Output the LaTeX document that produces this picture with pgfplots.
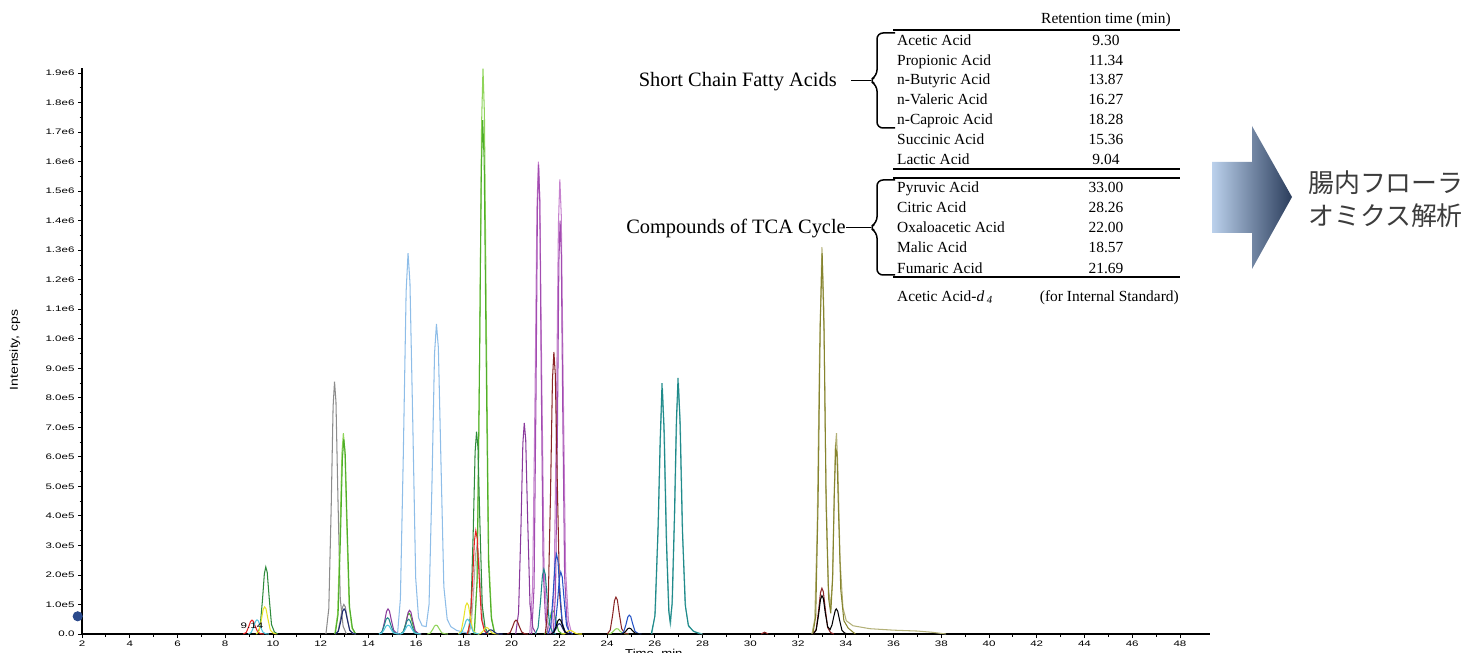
\documentclass[border=0pt]{standalone}
\usepackage{fontspec}
\setmainfont{Liberation Serif}
\setsansfont{Liberation Sans}
\newfontfamily\jp{Noto Sans CJK JP}
\usepackage{graphicx}
\usepackage{pgfplots}
\pgfplotsset{compat=1.18}
\usetikzlibrary{plotmarks}
\definecolor{cGray}{HTML}{8C8C8C}
\definecolor{cLGreen}{HTML}{8FD45A}
\definecolor{cGreen}{HTML}{4FAE2A}
\definecolor{cDGreen}{HTML}{2E8B3C}
\definecolor{cLBlue}{HTML}{8EBDE8}
\definecolor{cYellow}{HTML}{E8E22A}
\definecolor{cRed}{HTML}{E42424}
\definecolor{cCyan}{HTML}{52C6DE}
\definecolor{cNavy}{HTML}{1E2A6E}
\definecolor{cPurple}{HTML}{8A3A9C}
\definecolor{cLMag}{HTML}{C682CE}
\definecolor{cDMag}{HTML}{A24CB0}
\definecolor{cMaroon}{HTML}{8A2626}
\definecolor{cBlue}{HTML}{2452C6}
\definecolor{cTeal}{HTML}{1F8A8A}
\definecolor{cLTeal}{HTML}{72B9B9}
\definecolor{cOlive}{HTML}{86842E}
\definecolor{cLOlive}{HTML}{B3B178}
\definecolor{arrL}{HTML}{BBD1EC}
\definecolor{arrM}{HTML}{4E88C8}
\definecolor{arrR}{HTML}{2B3D5C}
\definecolor{cMark}{HTML}{2B4A8C}
\definecolor{jpgray}{HTML}{3C3C3C}
\newcommand{\tl}[1]{\scalebox{1.45}[1]{#1}}
\newcommand{\tf}{\fontsize{15.5}{18}\selectfont}
\begin{document}
\begin{tikzpicture}
\useasboundingbox (0bp,0bp) rectangle (1469bp,653bp);
\begin{axis}[
  at={(82bp,19bp)}, anchor=south west,
  width=1128bp, height=566bp, scale only axis,
  xmin=2, xmax=49.26, ymin=0, ymax=19.17,
  axis lines=left, axis line style={-, line width=1.1bp},
  xtick={2,4,...,48}, minor x tick num=1,
  ytick={0,1,...,19}, minor y tick num=1,
  tick align=outside, major tick length=4bp, minor tick length=2.5bp,
  tick style={line width=0.8bp, black},
  xticklabels={\tl{2},\tl{4},\tl{6},\tl{8},\tl{10},\tl{12},\tl{14},\tl{16},\tl{18},\tl{20},\tl{22},\tl{24},\tl{26},\tl{28},\tl{30},\tl{32},\tl{34},\tl{36},\tl{38},\tl{40},\tl{42},\tl{44},\tl{46},\tl{48}},
  yticklabels={\tl{0.0},\tl{1.0e5},\tl{2.0e5},\tl{3.0e5},\tl{4.0e5},\tl{5.0e5},\tl{6.0e5},\tl{7.0e5},\tl{8.0e5},\tl{9.0e5},\tl{1.0e6},\tl{1.1e6},\tl{1.2e6},\tl{1.3e6},\tl{1.4e6},\tl{1.5e6},\tl{1.6e6},\tl{1.7e6},\tl{1.8e6},\tl{1.9e6}},
  tick label style={font=\fontsize{8}{9}\selectfont\sffamily},
  xticklabel style={yshift=1bp},
  ylabel={\scalebox{1.22}[1]{Intensity, cps}},
  ylabel style={at={(axis description cs:-0.0594,0.502)}, anchor=center, font=\fontsize{11.5}{12}\selectfont\sffamily},
  xlabel={\scalebox{1.15}[1]{Time, min}},
  xlabel style={at={(axis description cs:0.507,-0.041)}, anchor=base, font=\fontsize{11.5}{12}\selectfont\sffamily},
  clip=false,
  every axis plot/.append style={line width=1.05bp, no marks},
]
% light blue
\addplot[cLBlue] coordinates {(15.22,0)(15.34,1.2)(15.46,6.0)(15.58,11.6)(15.66,12.9)(15.74,11.9)(15.86,7.1)(15.98,1.9)(16.10,0.55)(16.25,0.28)(16.42,0.25)(16.54,1.0)(16.66,5.0)(16.77,9.5)(16.85,10.5)(16.93,9.7)(17.04,5.8)(17.16,1.6)(17.30,0.5)(17.45,0.25)(17.7,0.12)(18.0,0.06)(18.3,0)};
% gray
\addplot[cGray] coordinates {(12.22,0)(12.34,0.86)(12.44,4.28)(12.52,7.70)(12.58,8.55)(12.64,7.87)(12.72,4.70)(12.82,1.20)(12.94,0.26)(13.08,0)};
\addplot[cGray] coordinates {(12.61,0)(12.73,0.1)(12.83,0.5)(12.91,0.9)(12.97,1.0)(13.03,0.92)(13.11,0.55)(13.21,0.14)(13.33,0.03)(13.47,0)};
\addplot[cGray!70] coordinates {(18.19,0)(18.31,0.3)(18.41,1.5)(18.49,2.7)(18.55,3.0)(18.61,2.76)(18.69,1.65)(18.79,0.42)(18.91,0.09)(19.05,0)};
% greens
\addplot[cLGreen] coordinates {(12.59,0)(12.71,0.68)(12.81,3.4)(12.89,6.12)(12.95,6.8)(13.01,6.26)(13.09,3.74)(13.19,0.95)(13.31,0.2)(13.45,0)};
\addplot[cGreen] coordinates {(12.61,0)(12.73,0.66)(12.83,3.3)(12.91,5.94)(12.97,6.6)(13.03,6.07)(13.11,3.63)(13.21,0.92)(13.33,0.2)(13.47,0)};
\addplot[cLGreen] coordinates {(18.44,0)(18.56,1.92)(18.66,9.58)(18.74,17.24)(18.80,19.15)(18.86,17.62)(18.94,10.53)(19.04,2.68)(19.16,0.57)(19.30,0)};
\addplot[cGreen] coordinates {(18.43,0)(18.55,1.74)(18.65,8.7)(18.73,15.66)(18.79,17.4)(18.85,16.01)(18.93,9.57)(19.03,2.44)(19.15,0.52)(19.29,0)};
\addplot[cGreen] coordinates {(15.34,0)(15.46,0.07)(15.56,0.35)(15.64,0.63)(15.70,0.7)(15.76,0.64)(15.84,0.39)(15.94,0.1)(16.06,0.02)(16.20,0)};
\addplot[cLGreen] coordinates {(16.47,0)(16.59,0.03)(16.69,0.15)(16.77,0.27)(16.83,0.3)(16.89,0.28)(16.97,0.17)(17.07,0.04)(17.19,0.01)(17.33,0)};
\addplot[cLGreen] coordinates {(24.04,0)(24.16,0.02)(24.26,0.09)(24.34,0.16)(24.40,0.18)(24.46,0.17)(24.54,0.1)(24.64,0.03)(24.76,0.01)(24.90,0)};
\addplot[cGreen] coordinates {(21.36,0)(21.48,0.08)(21.58,0.4)(21.66,0.72)(21.72,0.8)(21.78,0.74)(21.86,0.44)(21.96,0.11)(22.08,0.02)(22.22,0)};
\addplot[cDGreen] coordinates {(9.34,0)(9.46,0.23)(9.56,1.14)(9.64,2.04)(9.70,2.27)(9.76,2.09)(9.84,1.25)(9.94,0.32)(10.06,0.07)(10.20,0)};
\addplot[cDGreen] coordinates {(18.17,0)(18.29,0.69)(18.39,3.43)(18.47,6.17)(18.53,6.85)(18.59,6.3)(18.67,3.77)(18.77,0.96)(18.89,0.21)(19.03,0)};
% magenta / purple
\addplot[cLMag] coordinates {(20.76,0)(20.88,1.6)(20.98,8.0)(21.06,14.4)(21.12,16.0)(21.18,14.72)(21.26,8.8)(21.36,2.24)(21.48,0.48)(21.62,0)};
\addplot[cLMag] coordinates {(21.66,0)(21.78,1.54)(21.88,7.7)(21.96,13.86)(22.02,15.4)(22.08,14.17)(22.16,8.47)(22.26,2.16)(22.38,0.46)(22.52,0)};
\addplot[cDMag] coordinates {(20.84,0)(20.94,1.59)(21.02,7.95)(21.08,14.31)(21.13,15.9)(21.18,14.63)(21.24,8.75)(21.32,2.23)(21.42,0.48)(21.53,0)};
\addplot[cDMag] coordinates {(21.74,0)(21.84,1.4)(21.92,7.0)(21.98,12.6)(22.03,14.0)(22.08,12.88)(22.14,7.7)(22.22,1.96)(22.32,0.42)(22.43,0)};
\addplot[cPurple] coordinates {(20.17,0)(20.29,0.72)(20.39,3.58)(20.47,6.44)(20.53,7.15)(20.59,6.58)(20.67,3.93)(20.77,1.0)(20.89,0.21)(21.03,0)};
\addplot[cPurple] coordinates {(14.46,0)(14.58,0.09)(14.68,0.43)(14.76,0.77)(14.82,0.85)(14.88,0.78)(14.96,0.47)(15.06,0.12)(15.18,0.03)(15.32,0)};
\addplot[cPurple] coordinates {(15.36,0)(15.48,0.08)(15.58,0.4)(15.66,0.72)(15.72,0.8)(15.78,0.74)(15.86,0.44)(15.96,0.11)(16.08,0.02)(16.22,0)};
% teal
\addplot[cLTeal] coordinates {(25.87,0)(26.02,0.7)(26.15,3.8)(26.24,6.8)(26.32,8.3)(26.40,6.8)(26.50,3.0)(26.60,0.7)(26.66,0.35)(26.74,1.2)(26.84,4.3)(26.92,7.4)(26.99,8.5)(27.07,7.0)(27.17,3.3)(27.29,0.9)(27.42,0.25)(27.65,0.08)(28.0,0)};
\addplot[cTeal] coordinates {(25.85,0)(26.0,0.6)(26.13,3.5)(26.22,6.5)(26.30,8.5)(26.38,7.0)(26.48,3.2)(26.58,0.8)(26.64,0.4)(26.72,1.0)(26.82,4.0)(26.90,7.2)(26.97,8.67)(27.05,7.3)(27.15,3.6)(27.27,1.0)(27.40,0.3)(27.6,0.1)(27.9,0)};
\addplot[cTeal] coordinates {(20.99,0)(21.11,0.22)(21.21,1.1)(21.29,1.98)(21.35,2.2)(21.41,2.02)(21.49,1.21)(21.59,0.31)(21.71,0.07)(21.85,0)};
\addplot[cTeal] coordinates {(14.44,0)(14.56,0.06)(14.66,0.28)(14.74,0.5)(14.80,0.55)(14.86,0.51)(14.94,0.3)(15.04,0.08)(15.16,0.02)(15.30,0)};
\addplot[cTeal] coordinates {(15.32,0)(15.44,0.05)(15.54,0.25)(15.62,0.45)(15.68,0.5)(15.74,0.46)(15.82,0.28)(15.92,0.07)(16.04,0.02)(16.18,0)};
% olive
\addplot[cLOlive] coordinates {(32.58,0)(32.70,0.5)(32.80,3.5)(32.90,9.5)(33.0,13.1)(33.08,11.0)(33.17,5.0)(33.27,1.6)(33.36,0.9)(33.44,1.8)(33.51,4.5)(33.56,6.3)(33.61,6.8)(33.67,5.6)(33.76,2.5)(33.88,0.9)(34.02,0.45)(34.3,0.28)(35.0,0.18)(36.0,0.13)(37.0,0.1)(37.6,0.06)(38.2,0)};
\addplot[cOlive] coordinates {(32.62,0)(32.74,0.6)(32.84,4.5)(32.93,10.5)(33.01,12.9)(33.09,10.2)(33.18,4.2)(33.28,1.2)(33.37,0.7)(33.45,1.9)(33.52,4.8)(33.58,6.3)(33.63,6.1)(33.70,4.0)(33.79,1.5)(33.92,0.45)(34.1,0.2)(34.4,0)};
% maroon
\addplot[cMaroon] coordinates {(21.41,0)(21.53,0.96)(21.63,4.78)(21.71,8.6)(21.77,9.55)(21.83,8.79)(21.91,5.25)(22.01,1.34)(22.13,0.29)(22.27,0)};
\addplot[cMaroon] coordinates {(24.01,0)(24.13,0.13)(24.23,0.63)(24.31,1.13)(24.37,1.25)(24.43,1.15)(24.51,0.69)(24.61,0.18)(24.73,0.04)(24.87,0)};
\addplot[cMaroon] coordinates {(32.64,0)(32.76,0.16)(32.86,0.78)(32.94,1.4)(33.0,1.55)(33.06,1.43)(33.14,0.85)(33.24,0.22)(33.36,0.05)(33.50,0)};
\addplot[cMaroon] coordinates {(19.82,0)(19.94,0.05)(20.04,0.24)(20.12,0.42)(20.18,0.47)(20.24,0.43)(20.32,0.26)(20.42,0.07)(20.54,0.01)(20.68,0)};
\addplot[cMaroon] coordinates {(30.45,0)(30.6,0.06)(30.75,0)};
% blue
\addplot[cBlue] coordinates {(21.52,0)(21.64,0.27)(21.74,1.35)(21.82,2.43)(21.88,2.7)(21.94,2.48)(22.02,1.49)(22.12,0.38)(22.24,0.08)(22.38,0)};
\addplot[cBlue] coordinates {(21.70,0)(21.82,0.21)(21.92,1.05)(22.0,1.89)(22.06,2.1)(22.12,1.93)(22.20,1.16)(22.30,0.29)(22.42,0.06)(22.56,0)};
\addplot[cBlue] coordinates {(24.57,0)(24.69,0.06)(24.79,0.32)(24.87,0.58)(24.93,0.64)(24.99,0.59)(25.07,0.35)(25.17,0.09)(25.29,0.02)(25.43,0)};
% red
\addplot[cRed] coordinates {(8.76,0)(8.88,0.05)(8.98,0.24)(9.06,0.42)(9.12,0.47)(9.18,0.43)(9.26,0.26)(9.36,0.07)(9.48,0.01)(9.62,0)};
\addplot[cRed] coordinates {(18.14,0)(18.26,0.35)(18.36,1.75)(18.44,3.15)(18.50,3.5)(18.56,3.22)(18.64,1.93)(18.74,0.49)(18.86,0.11)(19.0,0)};
% yellow
\addplot[cYellow] coordinates {(9.29,0)(9.41,0.09)(9.51,0.46)(9.59,0.83)(9.65,0.92)(9.71,0.85)(9.79,0.51)(9.89,0.13)(10.01,0.03)(10.15,0)};
\addplot[cYellow] coordinates {(17.77,0)(17.89,0.11)(17.99,0.53)(18.07,0.95)(18.13,1.05)(18.19,0.97)(18.27,0.58)(18.37,0.15)(18.49,0.03)(18.63,0)};
\addplot[cYellow] coordinates {(18.59,0)(18.71,0.02)(18.81,0.11)(18.89,0.2)(18.95,0.22)(19.01,0.2)(19.09,0.12)(19.19,0.03)(19.31,0.01)(19.45,0)};
\addplot[cYellow] coordinates {(22.09,0)(22.21,0.01)(22.31,0.06)(22.39,0.11)(22.45,0.12)(22.51,0.11)(22.59,0.07)(22.69,0.02)(22.81,0)(22.95,0)};
% cyan
\addplot[cCyan] coordinates {(8.97,0)(9.09,0.05)(9.19,0.24)(9.27,0.43)(9.33,0.48)(9.39,0.44)(9.47,0.26)(9.57,0.07)(9.69,0.01)(9.83,0)};
\addplot[cCyan] coordinates {(17.79,0)(17.91,0.05)(18.01,0.25)(18.09,0.45)(18.15,0.5)(18.21,0.46)(18.29,0.28)(18.39,0.07)(18.51,0.02)(18.65,0)};
\addplot[cCyan] coordinates {(14.44,0)(14.56,0.03)(14.66,0.15)(14.74,0.27)(14.80,0.3)(14.86,0.28)(14.94,0.17)(15.04,0.04)(15.16,0.01)(15.30,0)};
\addplot[cCyan] coordinates {(15.32,0)(15.44,0.03)(15.54,0.15)(15.62,0.27)(15.68,0.3)(15.74,0.28)(15.82,0.17)(15.92,0.04)(16.04,0.01)(16.18,0)};
% navy
\addplot[cNavy] coordinates {(12.62,0)(12.74,0.09)(12.84,0.43)(12.92,0.77)(12.98,0.85)(13.04,0.78)(13.12,0.47)(13.22,0.12)(13.34,0.03)(13.48,0)};
\addplot[cNavy] coordinates {(18.76,0)(18.88,0.01)(18.98,0.07)(19.06,0.13)(19.12,0.14)(19.18,0.13)(19.26,0.08)(19.36,0.02)(19.48,0)(19.62,0)};
\addplot[cNavy] coordinates {(21.64,0)(21.76,0.04)(21.86,0.18)(21.94,0.32)(22.0,0.35)(22.06,0.32)(22.14,0.19)(22.24,0.05)(22.36,0.01)(22.50,0)};
% black
\addplot[black] coordinates {(32.64,0)(32.76,0.13)(32.86,0.65)(32.94,1.17)(33.0,1.3)(33.06,1.2)(33.14,0.72)(33.24,0.25)(33.34,0.15)(33.42,0.3)(33.50,0.6)(33.56,0.8)(33.6,0.85)(33.66,0.78)(33.74,0.47)(33.84,0.12)(33.96,0.03)(34.10,0)};
\addplot[black] coordinates {(24.57,0)(24.69,0.02)(24.79,0.1)(24.87,0.18)(24.93,0.2)(24.99,0.18)(25.07,0.11)(25.17,0.03)(25.29,0.01)(25.43,0)};
\addplot[black] coordinates {(21.64,0)(21.76,0.05)(21.86,0.25)(21.94,0.45)(22.0,0.5)(22.06,0.46)(22.14,0.28)(22.24,0.07)(22.36,0.02)(22.50,0)};
% threshold marker
\addplot[only marks, mark=triangle*, mark size=4.5bp, mark options={rotate=-90, fill=cMark, draw=cMark, solid}] coordinates {(1.82,0.6)};
\node[font=\fontsize{8}{9}\selectfont\sffamily] at (axis cs:9.12,0.27) {\tl{9.14}};
\end{axis}

\begin{scope}[x=1bp,y=1bp]
% table
\node[anchor=center, inner sep=0, font=\tf] at (1106,633) {Retention time (min)};
\draw[line width=1.1bp] (893,623) -- (1180,623);
\foreach \n/\v/\y in {Acetic Acid/9.30/612, Propionic Acid/11.34/592, n-Butyric Acid/13.87/573, n-Valeric Acid/16.27/553, n-Caproic Acid/18.28/533, Succinic Acid/15.36/513, Lactic Acid/9.04/493, Pyruvic Acid/33.00/465, Citric Acid/28.26/445, Oxaloacetic Acid/22.00/425, Malic Acid/18.57/405, Fumaric Acid/21.69/385}{
  \node[anchor=base west, inner sep=0, font=\tf] at (897,\y-5) {\n};
  \node[anchor=base, inner sep=0, font=\tf] at (1106,\y-5) {\v};
}
\draw[line width=1.4bp] (893,484) -- (1180,484);
\draw[line width=1.4bp] (893,475) -- (1180,475);
\draw[line width=1.4bp] (893,376) -- (1180,376);
\node[anchor=base west, inner sep=0, font=\tf] at (897,352) {Acetic Acid-\textit{d}\,\textsubscript{\textit{4}}};
\node[anchor=base east, inner sep=0, font=\tf] at (1179,352) {(for Internal Standard)};

% braces
\draw[line width=1.5bp, rounded corners=6bp] (895,620) -- (877,620) -- (877,577) -- (869,572.5) -- (877,568) -- (877,525) -- (895,525);
\draw[line width=1.5bp] (851,572.5) -- (871,572.5);
\node[anchor=base east, inner sep=0, font=\fontsize{20.5}{23}\selectfont] at (837,566) {Short Chain Fatty Acids};
\draw[line width=1.5bp, rounded corners=6bp] (895,473) -- (877,473) -- (877,430) -- (869,425.5) -- (877,421) -- (877,378) -- (895,378);
\draw[line width=1.5bp] (846,425.5) -- (871,425.5);
\node[anchor=base east, inner sep=0, font=\fontsize{20.5}{23}\selectfont] at (846,419) {Compounds of TCA Cycle};

% arrow
\shade[left color=arrL, middle color=arrM, right color=arrR] (1212,491) -- (1252,491) -- (1252,527) -- (1292,456) -- (1252,384) -- (1252,420) -- (1212,420) -- cycle;
\node[anchor=west, inner sep=0, text=jpgray, font=\jp\fontsize{26}{30}\selectfont] at (1308,470) {腸内フローラ};
\node[anchor=west, inner sep=0, text=jpgray, font=\jp\fontsize{26}{30}\selectfont] at (1308,437) {オミクス解析};
\end{scope}
\end{tikzpicture}
\end{document}
